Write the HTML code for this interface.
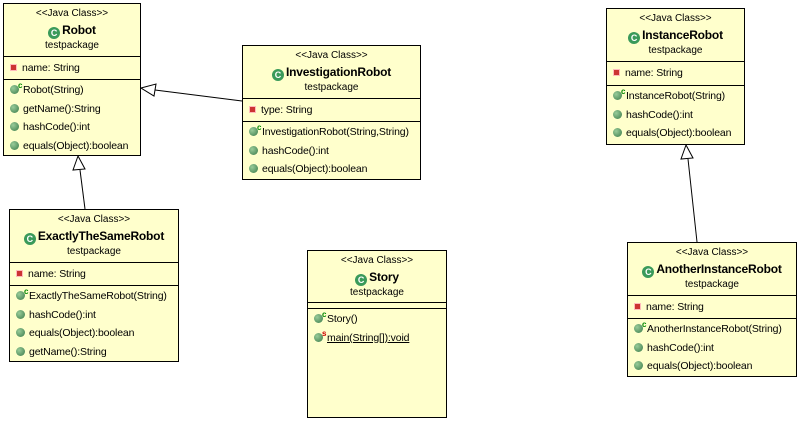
<!DOCTYPE html><html><head><style>
body{margin:0;width:800px;height:421px;background:#fff;position:relative;overflow:hidden;font-family:"Liberation Sans",sans-serif;font-size:11px;color:#000}
.b{position:absolute;background:#ffffcc;border:1px solid #000;box-sizing:border-box}
.h{text-align:center;position:relative}
.st{font-size:10px;position:absolute;left:0;right:0;top:4px}
.n{font-weight:bold;font-size:12px;position:absolute;left:0;right:0;top:19px;letter-spacing:-0.2px}
.p{font-size:10px;position:absolute;left:0;right:0;top:36px}
.ci{display:inline-block;width:12px;height:12px;border-radius:50%;background:#3a9a5a;color:#fff;font-size:9px;line-height:12px;text-align:center;vertical-align:-2px;margin-right:2px;letter-spacing:0}
.s{border-top:1px solid #000;box-sizing:border-box}
.r{height:18.5px;line-height:18px;padding-left:6px;white-space:nowrap;position:relative;font-size:10.5px;letter-spacing:-0.15px}
.g{display:inline-block;width:9px;height:9px;border-radius:50%;background:radial-gradient(circle at 35% 35%,#9c9,#3a7a4a);vertical-align:-1px;margin-right:4px}
.x{display:inline-block;width:7px;height:7px;background:#c33;border:1px solid #fbb;box-sizing:border-box;vertical-align:0;margin-right:5px}
.sup{position:absolute;left:14px;top:-4px;font-size:8px;font-weight:bold;color:#080}
.sup.red{color:#c00}
</style></head><body>
<svg width="800" height="421" style="position:absolute;left:0;top:0">
<g stroke="#000" fill="#fff" stroke-width="1">
<line x1="242" y1="101" x2="155" y2="90"/><polygon points="141,88 156,84 154,96"/>
<line x1="85" y1="209" x2="80" y2="170"/><polygon points="78,156 73,170 85,169"/>
<line x1="697" y1="242" x2="688" y2="159"/><polygon points="686,145 681,159 693,158"/>
</g></svg>

<div class="b" style="left:3px;top:3px;width:138px;height:153px">
<div class="h" style="height:52px"><div class="st">&lt;&lt;Java Class&gt;&gt;</div><div class="n"><span class="ci">C</span>Robot</div><div class="p">testpackage</div></div>
<div class="s" style="height:23px;padding-top:2px"><div class="r"><span class="x"></span>name: String</div></div>
<div class="s" style="padding-top:1px"><div class="r"><span class="g"></span><span class="sup">c</span>Robot(String)</div><div class="r"><span class="g"></span>getName():String</div><div class="r"><span class="g"></span>hashCode():int</div><div class="r"><span class="g"></span>equals(Object):boolean</div></div>
</div>

<div class="b" style="left:242px;top:45px;width:179px;height:135px">
<div class="h" style="height:52px"><div class="st">&lt;&lt;Java Class&gt;&gt;</div><div class="n"><span class="ci">C</span>InvestigationRobot</div><div class="p">testpackage</div></div>
<div class="s" style="height:23px;padding-top:2px"><div class="r"><span class="x"></span>type: String</div></div>
<div class="s" style="padding-top:1px"><div class="r"><span class="g"></span><span class="sup">c</span>InvestigationRobot(String,String)</div><div class="r"><span class="g"></span>hashCode():int</div><div class="r"><span class="g"></span>equals(Object):boolean</div></div>
</div>

<div class="b" style="left:606px;top:8px;width:139px;height:137px">
<div class="h" style="height:52px"><div class="st">&lt;&lt;Java Class&gt;&gt;</div><div class="n"><span class="ci">C</span>InstanceRobot</div><div class="p">testpackage</div></div>
<div class="s" style="height:24px;padding-top:2px"><div class="r"><span class="x"></span>name: String</div></div>
<div class="s" style="padding-top:1px"><div class="r"><span class="g"></span><span class="sup">c</span>InstanceRobot(String)</div><div class="r"><span class="g"></span>hashCode():int</div><div class="r"><span class="g"></span>equals(Object):boolean</div></div>
</div>

<div class="b" style="left:9px;top:209px;width:170px;height:153px">
<div class="h" style="height:52px"><div class="st">&lt;&lt;Java Class&gt;&gt;</div><div class="n"><span class="ci">C</span>ExactlyTheSameRobot</div><div class="p">testpackage</div></div>
<div class="s" style="height:23px;padding-top:2px"><div class="r"><span class="x"></span>name: String</div></div>
<div class="s" style="padding-top:1px"><div class="r"><span class="g"></span><span class="sup">c</span>ExactlyTheSameRobot(String)</div><div class="r"><span class="g"></span>hashCode():int</div><div class="r"><span class="g"></span>equals(Object):boolean</div><div class="r"><span class="g"></span>getName():String</div></div>
</div>

<div class="b" style="left:307px;top:250px;width:140px;height:168px">
<div class="h" style="height:51px"><div class="st">&lt;&lt;Java Class&gt;&gt;</div><div class="n"><span class="ci">C</span>Story</div><div class="p">testpackage</div></div>
<div class="s" style="height:6px"></div>
<div class="s" style="padding-top:1px"><div class="r"><span class="g"></span><span class="sup">c</span>Story()</div><div class="r"><span class="g"></span><span class="sup red">s</span><span style="text-decoration:underline">main(String[]):void</span></div></div>
</div>

<div class="b" style="left:627px;top:242px;width:170px;height:135px">
<div class="h" style="height:52px"><div class="st">&lt;&lt;Java Class&gt;&gt;</div><div class="n"><span class="ci">C</span>AnotherInstanceRobot</div><div class="p">testpackage</div></div>
<div class="s" style="height:23px;padding-top:2px"><div class="r"><span class="x"></span>name: String</div></div>
<div class="s" style="padding-top:1px"><div class="r"><span class="g"></span><span class="sup">c</span>AnotherInstanceRobot(String)</div><div class="r"><span class="g"></span>hashCode():int</div><div class="r"><span class="g"></span>equals(Object):boolean</div></div>
</div>
</body></html>
